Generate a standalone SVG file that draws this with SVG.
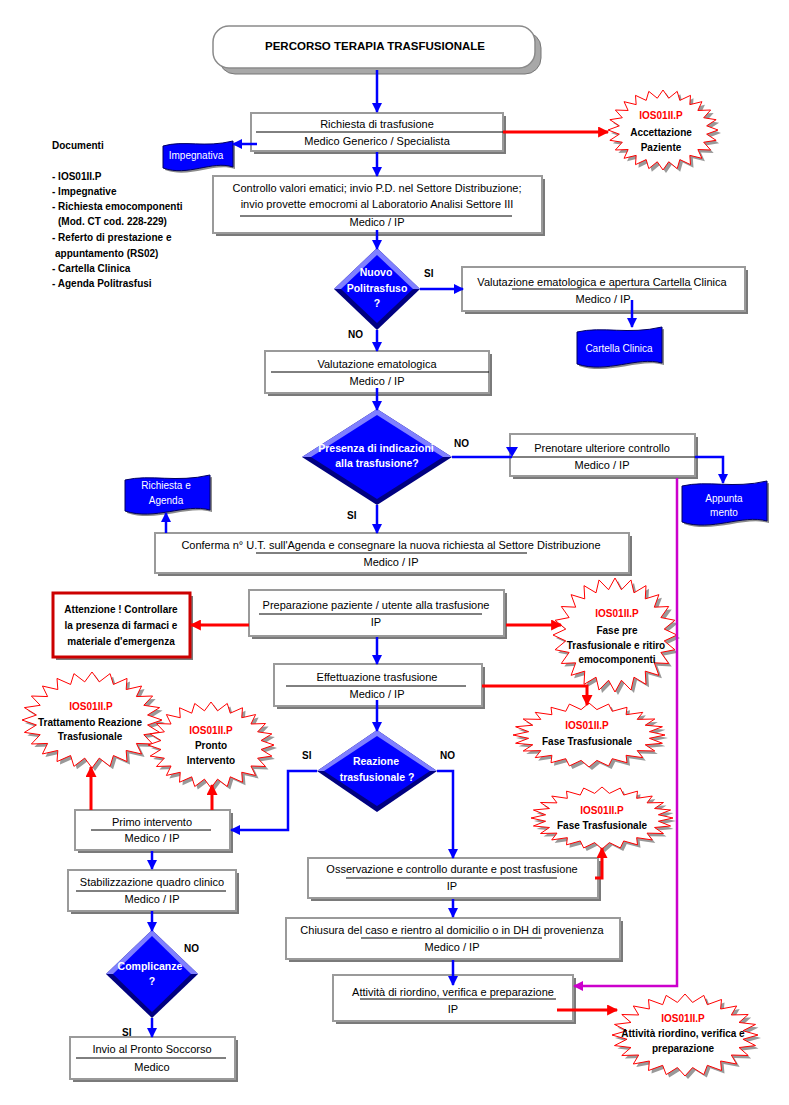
<svg xmlns="http://www.w3.org/2000/svg" xmlns:xlink="http://www.w3.org/1999/xlink" width="789" height="1105" viewBox="0 0 789 1105">
<style>
text{font-family:"Liberation Sans",Arial,sans-serif;}
.t{font-size:11px;text-anchor:middle;fill:#000;}
.title{font-size:11.5px;font-weight:bold;text-anchor:middle;fill:#000;}
.doc{font-size:10px;font-weight:bold;fill:#000;}
.sb{font-size:10px;font-weight:bold;text-anchor:middle;fill:#000;}
.sr{font-size:10px;font-weight:bold;text-anchor:middle;fill:#ff0000;}
.dt{font-size:10.5px;font-weight:bold;text-anchor:middle;fill:#fff;}
.wt{font-size:10px;text-anchor:middle;fill:#fff;}
.lbl{font-size:10px;font-weight:bold;fill:#000;}
.bx{fill:#fff;stroke:#9a9a9a;stroke-width:2;}
.sh{fill:#7a7a7a;}
.dv{stroke:#000;stroke-width:1;fill:none;}
.dk{fill:#000080;}
.lt{fill:#8080ff;}
.bl{fill:#0000ff;}
.dc{fill:#0000ff;stroke:#000060;stroke-width:1;}
.dcs{fill:#8a8a8a;}
.cb{fill:none;stroke:#0000ff;stroke-width:2.5;marker-end:url(#aB);}
.cr{fill:none;stroke:#ff0000;stroke-width:3;marker-end:url(#aR);}
.cm{fill:none;stroke:#cc00cc;stroke-width:2.5;marker-end:url(#aM);}
</style>
<defs>
<marker id="aB" viewBox="0 0 10 10" refX="9" refY="5" markerWidth="10" markerHeight="10" markerUnits="userSpaceOnUse" orient="auto"><path d="M0,0 L10,5 L0,10 Z" fill="#0000ff"/></marker>
<marker id="aR" viewBox="0 0 10 10" refX="9" refY="5" markerWidth="12" markerHeight="11" markerUnits="userSpaceOnUse" orient="auto"><path d="M0,0 L10,5 L0,10 Z" fill="#ff0000"/></marker>
<marker id="aM" viewBox="0 0 10 10" refX="9" refY="5" markerWidth="10" markerHeight="10" markerUnits="userSpaceOnUse" orient="auto"><path d="M0,0 L10,5 L0,10 Z" fill="#cc00cc"/></marker>
<polygon id="star" vector-effect="non-scaling-stroke" stroke-width="1" points="50,0 39.7,5.2 48.3,12.9 37,15.3 43.3,25 31.7,24.4 35.4,35.4 24.4,31.7 25,43.3 15.3,37 12.9,48.3 5.2,39.7 0,50 -5.2,39.7 -12.9,48.3 -15.3,37 -25,43.3 -24.4,31.7 -35.4,35.4 -31.7,24.4 -43.3,25 -37,15.3 -48.3,12.9 -39.7,5.2 -50,0 -39.7,-5.2 -48.3,-12.9 -37,-15.3 -43.3,-25 -31.7,-24.4 -35.4,-35.4 -24.4,-31.7 -25,-43.3 -15.3,-37 -12.9,-48.3 -5.2,-39.7 0,-50 5.2,-39.7 12.9,-48.3 15.3,-37 25,-43.3 24.4,-31.7 35.4,-35.4 31.7,-24.4 43.3,-25 37,-15.3 48.3,-12.9 39.7,-5.2"/>
</defs>
<rect width="789" height="1105" fill="#fff"/>

<g id="documenti">
<text class="doc" x="52" y="149">Documenti</text>
<text class="doc" x="52" y="180">- IOS01II.P</text>
<text class="doc" x="52" y="195">- Impegnative</text>
<text class="doc" x="52" y="210">- Richiesta emocomponenti</text>
<text class="doc" x="58" y="225">(Mod. CT cod. 228-229)</text>
<text class="doc" x="52" y="241">- Referto di prestazione e</text>
<text class="doc" x="55" y="257">appuntamento (RS02)</text>
<text class="doc" x="52" y="272">- Cartella Clinica</text>
<text class="doc" x="52" y="287">- Agenda Politrasfusi</text>
</g>

<g id="title">
<rect x="219" y="32" width="322" height="42" rx="16" fill="#a8a8a8" stroke="#777" stroke-width="1"/>
<rect x="213" y="26" width="322" height="42" rx="16" fill="#fff" stroke="#8a8a8a" stroke-width="1.5"/>
<text class="title" x="375" y="50">PERCORSO TERAPIA TRASFUSIONALE</text>
</g>

<g id="richiesta">
<rect class="sh" x="254" y="116" width="252" height="38"/>
<rect class="bx" x="251" y="113" width="252" height="38"/>
<text class="t" x="377" y="128">Richiesta di trasfusione</text>
<line class="dv" x1="256" y1="132" x2="503" y2="132"/>
<text class="t" x="377" y="145">Medico Generico / Specialista</text>
</g>

<g id="impegnativa">
<path class="dcs" d="M165,148 C186,142 207,150 235,143 L235,169 C214,162 190,179 165,170 Z"/>
<path class="dc" d="M163,146 C184,140 205,148 233,141 L233,167 C212,160 188,177 163,168 Z"/>
<text class="wt" x="196" y="159">Impegnativa</text>
</g>

<g id="accettazione">
<use href="#star" transform="translate(666,133) scale(1.1,0.8)" fill="#999"/>
<use href="#star" transform="translate(663,130) scale(1.1,0.8)" fill="#fff" stroke="#ff0000"/>
<text class="sr" x="661" y="119">IOS01II.P</text>
<text class="sb" x="661" y="136">Accettazione</text>
<text class="sb" x="661" y="151">Paziente</text>
</g>

<g id="controllo">
<rect class="sh" x="216" y="179" width="329" height="57"/>
<rect class="bx" x="213" y="176" width="329" height="57"/>
<text class="t" x="377" y="192">Controllo valori ematici; invio P.D. nel Settore Distribuzione;</text>
<text class="t" x="377" y="208">invio provette emocromi al Laboratorio Analisi Settore III</text>
<line class="dv" x1="240" y1="216" x2="512" y2="216"/>
<text class="t" x="377" y="226">Medico / IP</text>
</g>

<g id="nuovo">
<polygon class="dk" points="334,289 377,248 420,289 377,330"/>
<polygon class="lt" points="334,289 377,248 420,289"/>
<polygon class="bl" points="341,289 377,255 413,289 377,323"/>
<text class="dt" x="376" y="276">Nuovo</text>
<text class="dt" x="377" y="292">Politrasfuso</text>
<text class="dt" x="377" y="307">?</text>
<text class="lbl" x="424" y="277">SI</text>
<text class="lbl" x="348" y="338">NO</text>
</g>

<g id="valutazione-cartella">
<rect class="sh" x="465" y="270" width="283" height="44"/>
<rect class="bx" x="462" y="267" width="283" height="44"/>
<text class="t" x="602" y="286">Valutazione ematologica e apertura Cartella Clinica</text>
<line class="dv" x1="512" y1="289" x2="692" y2="289"/>
<text class="t" x="603" y="303">Medico / IP</text>
</g>

<g id="cartella">
<path class="dcs" d="M579,334 C605,328 630,337 664,329 L664,365 C639,358 609,376 579,366 Z"/>
<path class="dc" d="M577,332 C603,326 628,335 662,327 L662,363 C637,356 607,374 577,364 Z"/>
<text class="wt" x="619" y="352">Cartella Clinica</text>
</g>

<g id="valutazione">
<rect class="sh" x="268" y="354" width="224" height="42"/>
<rect class="bx" x="265" y="351" width="224" height="42"/>
<text class="t" x="377" y="368">Valutazione ematologica</text>
<line class="dv" x1="271" y1="372" x2="489" y2="372"/>
<text class="t" x="377" y="385">Medico / IP</text>
</g>

<g id="presenza">
<polygon class="dk" points="302,457 377,409 452,457 377,505"/>
<polygon class="lt" points="302,457 377,409 452,457"/>
<polygon class="bl" points="311,457 377,415 443,457 377,499"/>
<text class="dt" x="376" y="452">Presenza di indicazioni</text>
<text class="dt" x="377" y="467">alla trasfusione?</text>
<text class="lbl" x="454" y="447">NO</text>
<text class="lbl" x="347" y="519">SI</text>
</g>

<g id="prenotare">
<rect class="sh" x="513" y="437" width="185" height="42"/>
<rect class="bx" x="510" y="434" width="185" height="42"/>
<text class="t" x="602" y="452">Prenotare ulteriore controllo</text>
<line class="dv" x1="512" y1="457" x2="695" y2="457"/>
<text class="t" x="602" y="469">Medico / IP</text>
</g>

<g id="appuntamento">
<path class="dcs" d="M684,488 C710,482 735,491 769,483 L769,523 C744,516 714,534 684,524 Z"/>
<path class="dc" d="M682,486 C708,480 733,489 767,481 L767,521 C742,514 712,532 682,522 Z"/>
<text class="wt" x="724" y="502">Appunta</text>
<text class="wt" x="724" y="516">mento</text>
</g>

<g id="agenda">
<path class="dcs" d="M127,482 C153,476 178,485 212,477 L212,512 C187,505 157,523 127,513 Z"/>
<path class="dc" d="M125,480 C151,474 176,483 210,475 L210,510 C185,503 155,521 125,511 Z"/>
<text class="wt" x="166" y="489">Richiesta e</text>
<text class="wt" x="166" y="504">Agenda</text>
</g>

<g id="conferma">
<rect class="sh" x="158" y="536" width="474" height="40"/>
<rect class="bx" x="155" y="533" width="474" height="40"/>
<text class="t" x="391" y="549">Conferma n° U.T. sull'Agenda  e consegnare la nuova richiesta al Settore Distribuzione</text>
<line class="dv" x1="256" y1="553" x2="527" y2="553"/>
<text class="t" x="391" y="566">Medico / IP</text>
</g>

<g id="attenzione">
<rect class="sh" x="56" y="596" width="137" height="64"/>
<rect x="53" y="593" width="137" height="64" fill="#fff" stroke="#cc0000" stroke-width="3"/>
<text class="sb" x="121" y="613">Attenzione ! Controllare</text>
<text class="sb" x="121" y="629">la presenza di farmaci e</text>
<text class="sb" x="121" y="645">materiale d'emergenza</text>
</g>

<g id="preparazione">
<rect class="sh" x="252" y="593" width="255" height="46"/>
<rect class="bx" x="249" y="590" width="255" height="46"/>
<text class="t" x="376" y="609">Preparazione paziente / utente alla trasfusione</text>
<line class="dv" x1="259" y1="614" x2="482" y2="614"/>
<text class="t" x="376" y="626">IP</text>
</g>

<g id="fase-pre">
<use href="#star" transform="translate(618,638) scale(1.24,1.14)" fill="#999"/>
<use href="#star" transform="translate(615,635) scale(1.24,1.14)" fill="#fff" stroke="#ff0000"/>
<text class="sr" x="617" y="617">IOS01II.P</text>
<text class="sb" x="617" y="634">Fase pre</text>
<text class="sb" x="616" y="649">Trasfusionale e ritiro</text>
<text class="sb" x="617" y="663">emocomponenti</text>
</g>

<g id="effettuazione">
<rect class="sh" x="277" y="667" width="208" height="42"/>
<rect class="bx" x="274" y="664" width="208" height="42"/>
<text class="t" x="377" y="681">Effettuazione trasfusione</text>
<line class="dv" x1="286" y1="686" x2="466" y2="686"/>
<text class="t" x="377" y="698">Medico / IP</text>
</g>

<g id="fase-trasf-1">
<use href="#star" transform="translate(592,738) scale(1.52,0.64)" fill="#999"/>
<use href="#star" transform="translate(589,735) scale(1.52,0.64)" fill="#fff" stroke="#ff0000"/>
<text class="sr" x="587" y="729">IOS01II.P</text>
<text class="sb" x="587" y="745">Fase Trasfusionale</text>
</g>

<g id="trattamento">
<use href="#star" transform="translate(95,723) scale(1.4,0.96)" fill="#999"/>
<use href="#star" transform="translate(92,720) scale(1.4,0.96)" fill="#fff" stroke="#ff0000"/>
<text class="sr" x="91" y="710">IOS01II.P</text>
<text class="sb" x="90" y="726">Trattamento Reazione</text>
<text class="sb" x="90" y="740">Trasfusionale</text>
</g>

<g id="pronto">
<use href="#star" transform="translate(214,748) scale(1.26,0.86)" fill="#999"/>
<use href="#star" transform="translate(211,745) scale(1.26,0.86)" fill="#fff" stroke="#ff0000"/>
<text class="sr" x="211" y="734">IOS01II.P</text>
<text class="sb" x="211" y="749">Pronto</text>
<text class="sb" x="211" y="764">Intervento</text>
</g>

<g id="reazione">
<polygon class="dk" points="317,771 377,730 437,771 377,812"/>
<polygon class="lt" points="317,771 377,730 437,771"/>
<polygon class="bl" points="324,771 377,736 430,771 377,806"/>
<text class="dt" x="376" y="765">Reazione</text>
<text class="dt" x="377" y="781">trasfusionale ?</text>
<text class="lbl" x="302" y="759">SI</text>
<text class="lbl" x="440" y="759">NO</text>
</g>

<g id="primo">
<rect class="sh" x="78" y="813" width="155" height="40"/>
<rect class="bx" x="75" y="810" width="155" height="40"/>
<text class="t" x="152" y="826">Primo intervento</text>
<line class="dv" x1="91" y1="830" x2="211" y2="830"/>
<text class="t" x="152" y="842">Medico / IP</text>
</g>

<g id="stabilizzazione">
<rect class="sh" x="71" y="873" width="168" height="41"/>
<rect class="bx" x="68" y="870" width="168" height="41"/>
<text class="t" x="152" y="886">Stabilizzazione quadro clinico</text>
<line class="dv" x1="76" y1="891" x2="226" y2="891"/>
<text class="t" x="152" y="903">Medico / IP</text>
</g>

<g id="complicanze">
<polygon class="dk" points="106,974 152,930 198,974 152,1018"/>
<polygon class="lt" points="106,974 152,930 198,974"/>
<polygon class="bl" points="113,974 152,936 191,974 152,1012"/>
<text class="dt" x="150" y="970">Complicanze</text>
<text class="dt" x="152" y="985">?</text>
<text class="lbl" x="184" y="952">NO</text>
<text class="lbl" x="122" y="1036">SI</text>
</g>

<g id="invio">
<rect class="sh" x="73" y="1040" width="165" height="42"/>
<rect class="bx" x="70" y="1037" width="165" height="42"/>
<text class="t" x="152" y="1053">Invio al Pronto Soccorso</text>
<line class="dv" x1="76" y1="1058" x2="226" y2="1058"/>
<text class="t" x="152" y="1071">Medico</text>
</g>

<g id="osservazione">
<rect class="sh" x="311" y="861" width="290" height="40"/>
<rect class="bx" x="308" y="858" width="290" height="40"/>
<text class="t" x="452" y="873">Osservazione e controllo durante e post trasfusione</text>
<line class="dv" x1="346" y1="878" x2="557" y2="878"/>
<text class="t" x="452" y="890">IP</text>
</g>

<g id="fase-trasf-2">
<use href="#star" transform="translate(605,821) scale(1.42,0.62)" fill="#999"/>
<use href="#star" transform="translate(602,818) scale(1.42,0.62)" fill="#fff" stroke="#ff0000"/>
<text class="sr" x="602" y="814">IOS01II.P</text>
<text class="sb" x="602" y="829">Fase Trasfusionale</text>
</g>

<g id="chiusura">
<rect class="sh" x="289" y="921" width="334" height="41"/>
<rect class="bx" x="286" y="918" width="334" height="41"/>
<text class="t" x="452" y="934">Chiusura del caso e rientro al domicilio o in DH di provenienza</text>
<line class="dv" x1="361" y1="938" x2="542" y2="938"/>
<text class="t" x="452" y="951">Medico / IP</text>
</g>

<g id="attivita">
<rect class="sh" x="336" y="978" width="240" height="46"/>
<rect class="bx" x="333" y="975" width="240" height="46"/>
<text class="t" x="453" y="996">Attività di riordino, verifica e preparazione</text>
<line class="dv" x1="360" y1="999" x2="556" y2="999"/>
<text class="t" x="453" y="1013">IP</text>
</g>

<g id="attivita-star">
<use href="#star" transform="translate(688,1038) scale(1.46,0.82)" fill="#999"/>
<use href="#star" transform="translate(685,1035) scale(1.46,0.82)" fill="#fff" stroke="#ff0000"/>
<text class="sr" x="683" y="1022">IOS01II.P</text>
<text class="sb" x="683" y="1037">Attività riordino, verifica e</text>
<text class="sb" x="683" y="1052">preparazione</text>
</g>

<g id="connectors">
<path class="cb" d="M377,70 V112"/>
<path class="cb" d="M377,152 V176"/>
<path class="cb" d="M257,144 H233"/>
<path class="cr" d="M503,132 H608"/>
<path class="cb" d="M377,230 V249"/>
<path class="cb" d="M420,289 H463"/>
<path class="cb" d="M632,300 V327"/>
<path class="cb" d="M377,330 V351"/>
<path class="cb" d="M377,388 V410"/>
<path fill="none" stroke="#0000ff" stroke-width="2.5" d="M452,457 H512"/>
<polygon points="506,447 518,447 512,457" fill="#0000ff"/>
<path class="cb" d="M695,457 H723 V483"/>
<path class="cm" d="M677,478 V986 H574"/>
<path class="cb" d="M377,505 V533"/>
<path class="cb" d="M166,533 V513"/>
<path class="cr" d="M249,625 H191"/>
<path class="cr" d="M506,625 H561"/>
<path class="cb" d="M377,637 V664"/>
<path class="cr" d="M482,686 H587 V705"/>
<path class="cb" d="M377,700 V731"/>
<path class="cb" d="M317,771 H288 V830 H231"/>
<path class="cb" d="M437,771 H453 V858"/>
<path class="cr" d="M91,810 V767"/>
<path class="cr" d="M212,810 V785"/>
<path class="cb" d="M152,851 V869"/>
<path class="cb" d="M152,911 V931"/>
<path class="cb" d="M152,1018 V1037"/>
<path class="cr" d="M595,878 H602 V848"/>
<path class="cb" d="M453,899 V917"/>
<path class="cb" d="M453,960 V985"/>
<path class="cr" d="M557,1010 H617"/>
</g>
</svg>
